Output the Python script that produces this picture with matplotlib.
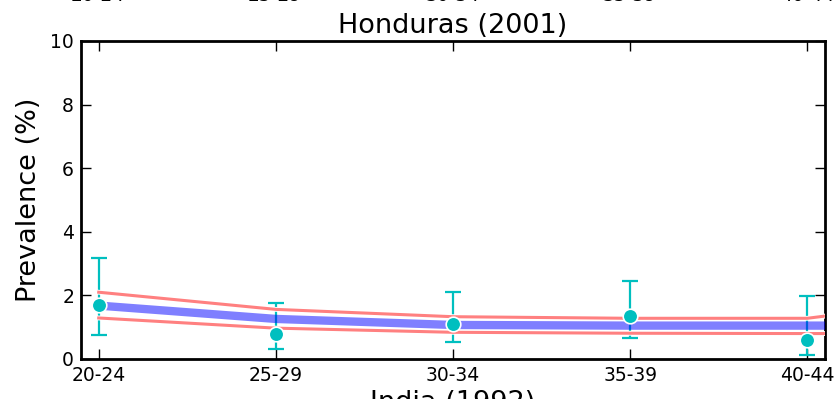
import matplotlib
matplotlib.use("Agg")
import matplotlib.pyplot as plt
import matplotlib.patheffects as pe

categories = ["20-24", "25-29", "30-34", "35-39", "40-44"]
obs = [1.70, 0.79, 1.10, 1.34, 0.61]
obs_hi = [3.19, 1.77, 2.11, 2.44, 1.97]
obs_lo = [0.75, 0.32, 0.53, 0.67, 0.12]

# model curve positions (category index, extended to axis edge)
model_x = [0, 1, 2, 3, 4, 4.1]
model_mid = [1.68, 1.26, 1.07, 1.05, 1.05, 1.05]
model_hi = [2.10, 1.56, 1.33, 1.28, 1.28, 1.35]
model_lo = [1.29, 0.97, 0.84, 0.81, 0.80, 0.80]

fig = plt.figure(figsize=(8.37, 3.99), dpi=100)
ax = fig.add_axes([81/837, 1-359/399, (825-81)/837, (359-41)/399])

x = list(range(len(categories)))
yerr = [[o - l for o, l in zip(obs, obs_lo)], [h - o for o, h in zip(obs, obs_hi)]]
ax.errorbar(x, obs, yerr=yerr, fmt='none', ecolor=(0, 0.75, 0.75), elinewidth=1.6,
            capsize=6, capthick=1.6, zorder=2)
ax.plot(model_x, model_hi, color='#ff8080', lw=2.2, zorder=3,
        path_effects=[pe.Stroke(linewidth=3.5, foreground='white'), pe.Normal()])
ax.plot(model_x, model_lo, color='#ff8080', lw=2.2, zorder=3,
        path_effects=[pe.Stroke(linewidth=3.5, foreground='white'), pe.Normal()])
ax.plot(model_x, model_mid, color='blue', alpha=0.5, lw=6, zorder=4, solid_capstyle='butt')
ax.plot(x, obs, 'o', color=(0, 0.75, 0.75), markersize=10.5, markeredgecolor='white',
        markeredgewidth=1.2, zorder=5)

ax.set_xlim(-0.1, 4.1)
ax.set_ylim(0, 10)
ax.set_xticks(x)
ax.set_xticklabels(categories)
ax.set_yticks([0, 2, 4, 6, 8, 10])
ax.tick_params(direction='in', length=7, width=1, labelsize=13.5, top=True, right=True, pad=5)
for s in ax.spines.values():
    s.set_linewidth(2)
ax.set_title("Honduras (2001)", fontsize=19.5, pad=6)
ax.set_ylabel("Prevalence (%)", fontsize=19.5, labelpad=6)

# neighbouring panel text partially visible
top_x = [98, 275, 453, 630, 807]
for xp, lab in zip(top_x, categories):
    fig.text(xp/837, 1 - 1/399, lab, ha='center', va='baseline', fontsize=13.5)
fig.text(453/837, 9/399, "India (1992)", ha='center', va='top', fontsize=19.5)

fig.savefig("out.png", dpi=100)
